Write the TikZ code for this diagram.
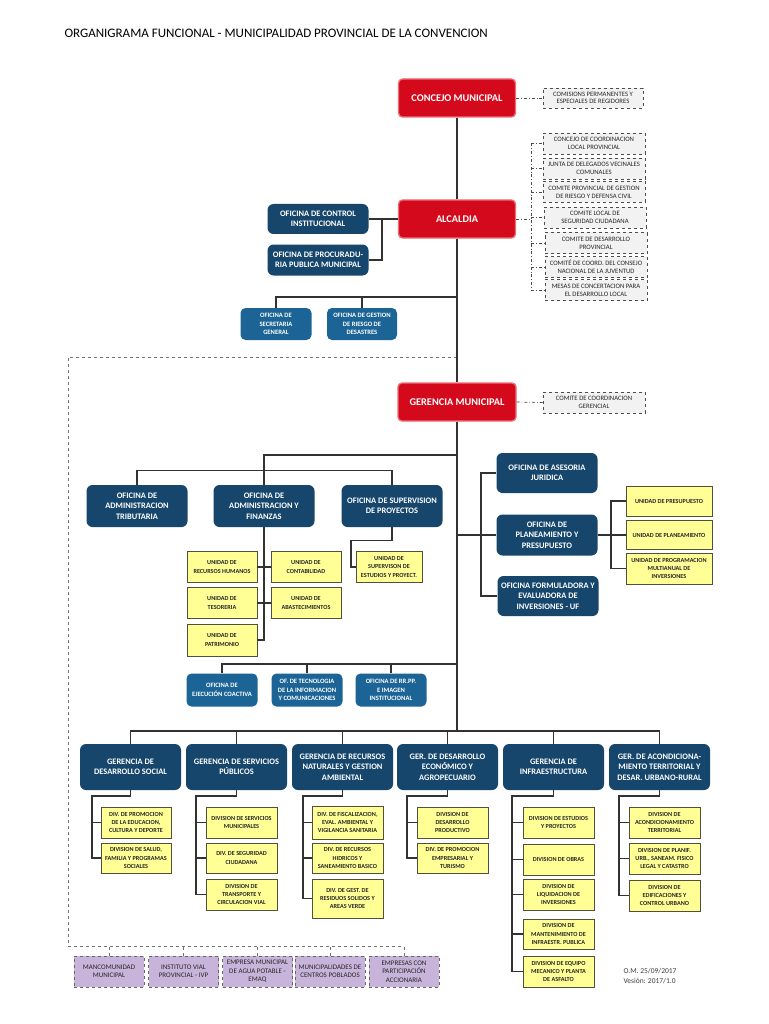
\documentclass[tikz,border=0pt]{standalone}
\usepackage{fontspec}
\setmainfont{Carlito}
\definecolor{cred}{RGB}{212,10,28}
\definecolor{credb}{RGB}{238,110,120}
\definecolor{cnavy}{RGB}{22,70,108}
\definecolor{clblue}{RGB}{28,100,150}
\definecolor{cyel}{RGB}{255,255,150}
\definecolor{cyelb}{RGB}{80,80,60}
\definecolor{cgray}{RGB}{242,242,242}
\definecolor{cpurp}{RGB}{200,180,218}
\definecolor{cline}{RGB}{50,50,50}
\begin{document}
\begin{tikzpicture}[x=1pt,y=-1pt,
 redbox/.style={rectangle,rounded corners=4pt,fill=cred,draw=credb,line width=1.3pt,text=white,font=\bfseries\fontsize{10.3}{12}\selectfont,minimum width=117pt,minimum height=38pt,inner sep=0pt,align=center},
 navybox/.style={rectangle,rounded corners=6pt,fill=cnavy,text=white,font=\bfseries\fontsize{8.4}{10.5}\selectfont,minimum width=101pt,minimum height=41pt,inner sep=0pt,align=center},
 lbbox/.style={rectangle,rounded corners=5pt,fill=clblue,text=white,font=\bfseries\fontsize{6.6}{8.4}\selectfont,minimum width=71pt,minimum height=32pt,inner sep=0pt,align=center},
 ybox/.style={rectangle,fill=cyel,draw=cyelb,line width=0.9pt,font=\bfseries\fontsize{6.2}{8.4}\selectfont,text=black!85,minimum width=71pt,minimum height=31pt,inner sep=0pt,align=center},
 dbox/.style={rectangle,fill=cgray,draw=black!70,dashed,line width=0.6pt,font=\fontsize{6.7}{7.7}\selectfont,text=black!85,minimum width=102pt,minimum height=21pt,inner sep=0pt,align=center},
 pbox/.style={rectangle,fill=cpurp,draw=black!60,dashed,line width=0.8pt,font=\fontsize{7}{8.4}\selectfont,text=black!85,minimum width=70pt,minimum height=31pt,inner sep=0pt,align=center},
 conn/.style={draw=cline,line width=1.2pt},
 dline/.style={draw=black!70,line width=0.7pt,dash dot},
 drect/.style={draw=black!55,line width=0.7pt,dashed}]
\useasboundingbox (0,0) rectangle (768,1024);
\fill[white] (0,0) rectangle (768,1024);

\node[anchor=west,font=\fontsize{13}{15}\selectfont] (title) at (61,33) {ORGANIGRAMA FUNCIONAL - MUNICIPALIDAD PROVINCIAL DE LA CONVENCION};

% top level
\node[redbox] (concejo) at (457,98) {CONCEJO MUNICIPAL};
\node[dbox,minimum width=100pt,minimum height=20pt] (comis) at (593,98) {COMISIONS PERMANENTES Y\\ESPECIALES DE REGIDORES};
\node[redbox] (alcaldia) at (457,219) {ALCALDIA};
\node[navybox,minimum height=30pt] (control) at (318,219) {OFICINA DE CONTROL\\INSTITUCIONAL};
\node[navybox,minimum height=31pt] (procur) at (318,260) {OFICINA DE PROCURADU-\\RIA PUBLICA MUNICIPAL};
\node[lbbox] (secret) at (276,324) {OFICINA DE\\SECRETARIA\\GENERAL};
\node[lbbox,minimum width=70pt] (gestr) at (362,324) {OFICINA DE GESTION\\DE RIESGO DE\\DESASTRES};

\node[dbox] (d1) at (594,143.5) {CONCEJO DE COORDINACION\\LOCAL PROVINCIAL};
\node[dbox] (d2) at (594,168.5) {JUNTA DE DELEGADOS VECINALES\\COMUNALES};
\node[dbox] (d3) at (594,192) {COMITE PROVINCIAL DE GESTION\\DE RIESGO Y DEFENSA CIVIL};
\node[dbox] (d4) at (595,217.5) {COMITE LOCAL DE\\SEGURIDAD CIUDADANA};
\node[dbox] (d5) at (596,243) {COMITE DE DESARROLLO\\PROVINCIAL};
\node[dbox] (d6) at (596,267) {COMITÉ DE COORD. DEL CONSEJO\\NACIONAL DE LA JUVENTUD};
\node[dbox] (d7) at (596,290) {MESAS DE CONCERTACION PARA\\EL DESARROLLO LOCAL};

\node[redbox,minimum width=118pt] (gerencia) at (457,402) {GERENCIA MUNICIPAL};
\node[dbox] (comger) at (594,402.5) {COMITE DE COORDINACION\\GERENCIAL};

% offices row
\node[navybox,minimum height=42pt] (adtrib) at (137,506) {OFICINA DE\\ADMINISTRACION\\TRIBUTARIA};
\node[navybox,minimum height=42pt] (finanzas) at (264,506) {OFICINA DE\\ADMINISTRACION Y\\FINANZAS};
\node[navybox,minimum height=42pt] (superv) at (392,506) {OFICINA DE SUPERVISION\\DE PROYECTOS};

\node[ybox,minimum width=70pt] (rrhh) at (222,567) {UNIDAD DE\\RECURSOS HUMANOS};
\node[ybox,minimum width=70pt] (contab) at (306,567) {UNIDAD DE\\CONTABILIDAD};
\node[ybox,minimum width=70pt] (tesor) at (222,603) {UNIDAD DE\\TESORERIA};
\node[ybox,minimum width=70pt] (abast) at (306,603) {UNIDAD DE\\ABASTECIMIENTOS};
\node[ybox,minimum width=70pt,minimum height=32pt] (patrim) at (222,640) {UNIDAD DE\\PATRIMONIO};
\node[ybox,minimum width=66pt] (supu) at (389,567) {UNIDAD DE\\SUPERVISON DE\\ESTUDIOS Y PROYECT.};

\node[navybox,minimum height=40pt] (asesor) at (547,473) {OFICINA DE ASESORIA\\JURIDICA};
\node[navybox,minimum height=41pt] (planea) at (547,535) {OFICINA DE\\PLANEAMIENTO Y\\PRESUPUESTO};
\node[navybox,minimum height=40pt] (formul) at (548,596) {OFICINA FORMULADORA Y\\EVALUADORA DE\\INVERSIONES - UF};

\node[ybox,minimum width=86pt,minimum height=30pt] (upres) at (669,501) {UNIDAD DE PRESUPUESTO};
\node[ybox,minimum width=86pt,minimum height=29pt] (uplan) at (669,535) {UNIDAD DE PLANEAMIENTO};
\node[ybox,minimum width=86pt,minimum height=31pt] (uprog) at (669,568.5) {UNIDAD DE PROGRAMACION\\MULTIANUAL DE\\INVERSIONES};

\node[lbbox,minimum height=33pt] (ejec) at (222,690) {OFICINA DE\\EJECUCIÓN COACTIVA};
\node[lbbox,minimum height=33pt] (tecno) at (307,690) {OF. DE TECNOLOGIA\\DE LA INFORMACION\\Y COMUNICACIONES};
\node[lbbox,minimum height=33pt] (rrpp) at (391,690) {OFICINA DE RR.PP.\\E IMAGEN\\INSTITUCIONAL};

% gerencias
\node[navybox,minimum height=46pt] (g1) at (130.5,767) {GERENCIA DE\\DESARROLLO SOCIAL};
\node[navybox,minimum height=46pt] (g2) at (236.5,767) {GERENCIA DE SERVICIOS\\PÚBLICOS};
\node[navybox,minimum height=46pt] (g3) at (342.5,767) {GERENCIA DE RECURSOS\\NATURALES Y GESTION\\AMBIENTAL};
\node[navybox,minimum height=46pt] (g4) at (447.5,767) {GER. DE DESARROLLO\\ECONÓMICO Y\\AGROPECUARIO};
\node[navybox,minimum height=46pt] (g5) at (553.5,767) {GERENCIA DE\\INFRAESTRUCTURA};
\node[navybox,minimum height=46pt] (g6) at (659.5,767) {GER. DE ACONDICIONA-\\MIENTO TERRITORIAL Y\\DESAR. URBANO-RURAL};

% divisions
\node[ybox,minimum width=70pt] (v11) at (136,822.5) {DIV. DE PROMOCION\\DE LA EDUCACION,\\CULTURA Y DEPORTE};
\node[ybox,minimum width=70pt,minimum height=30pt] (v12) at (136,858) {DIVISION DE SALUD,\\FAMILIA Y PROGRAMAS\\SOCIALES};
\node[ybox] (v21) at (241.5,822.5) {DIVISION DE SERVICIOS\\MUNICIPALES};
\node[ybox,minimum height=30pt] (v22) at (241.5,858) {DIV. DE SEGURIDAD\\CIUDADANA};
\node[ybox] (v23) at (241.5,894.5) {DIVISION DE\\TRANSPORTE Y\\CIRCULACION VIAL};
\node[ybox,minimum height=33pt] (v31) at (347.5,822.5) {DIV. DE FISCALIZACION,\\EVAL. AMBIENTAL Y\\VIGILANCIA SANITARIA};
\node[ybox,minimum height=30pt] (v32) at (347.5,858) {DIV. DE RECURSOS\\HIDRICOS Y\\SANEAMIENTO BASICO};
\node[ybox,minimum height=39pt] (v33) at (347.5,898.5) {DIV. DE GEST. DE\\RESIDUOS SOLIDOS Y\\AREAS VERDE};
\node[ybox] (v41) at (452.5,822.5) {DIVISION DE\\DESARROLLO\\PRODUCTIVO};
\node[ybox,minimum height=30pt] (v42) at (452.5,858) {DIV. DE PROMOCION\\EMPRESARIAL Y\\TURISMO};
\node[ybox] (v51) at (558.5,822.5) {DIVISION DE ESTUDIOS\\Y PROYECTOS};
\node[ybox] (v52) at (558.5,859.5) {DIVISION DE OBRAS};
\node[ybox] (v53) at (558.5,894.5) {DIVISION DE\\LIQUIDACION DE\\INVERSIONES};
\node[ybox,minimum height=30pt] (v54) at (558.5,934) {DIVISION DE\\MANTENIMIENTO DE\\INFRAESTR. PUBLICA};
\node[ybox] (v55) at (558.5,971.5) {DIVISION DE EQUIPO\\MECANICO Y PLANTA\\DE ASFALTO};
\node[ybox] (v61) at (664.5,822.5) {DIVISION DE\\ACONDICIONAMIENTO\\TERRITORIAL};
\node[ybox] (v62) at (664.5,858.5) {DIVISION DE PLANIF.\\URB., SANEAM. FISICO\\LEGAL Y CATASTRO};
\node[ybox] (v63) at (664.5,895.5) {DIVISION DE\\EDIFICACIONES Y\\CONTROL URBANO};

% purple
\node[pbox] (p1) at (109,971.5) {MANCOMUNIDAD\\MUNICIPAL};
\node[pbox] (p2) at (183.5,971.5) {INSTITUTO VIAL\\PROVINCIAL - IVP};
\node[pbox] (p3) at (257.5,971.5) {EMPRESA MUNICIPAL\\DE AGUA POTABLE -\\EMAQ};
\node[pbox] (p4) at (330,971.5) {MUNICIPALIDADES DE\\CENTROS POBLADOS};
\node[pbox] (p5) at (404,971.5) {EMPRESAS CON\\PARTICIPACIÓN\\ACCIONARIA};

\node[anchor=north west,align=left,font=\fontsize{7.5}{9.5}\selectfont,text=black!75] (version) at (620,965) {O.M. 25/09/2017\\Vesión: 2017/1.0};

% coordinates
\coordinate (abus) at (531,219);
\coordinate (ja) at (382,219);
\coordinate (js) at (457,297);
\coordinate (r1) at (457,357);
\coordinate (r2) at (68,357);
\coordinate (r3) at (68,946);
\coordinate (r4) at (404,946);
\coordinate (jt) at (457,455);
\coordinate (jr) at (457,535);
\coordinate (rb) at (481,535);
\coordinate (ub) at (611,535);
\coordinate (jm) at (457,664);
\coordinate (jbot) at (457,731);
\coordinate (c1) at (92,796);
\coordinate (c2) at (196,796);
\coordinate (c3) at (303,796);
\coordinate (c4) at (407,796);
\coordinate (c5) at (512,796);
\coordinate (c6) at (619,796);

% dashed frame
\draw[drect] (r1) -- (r2) -- (r3) -- (r4);
\foreach \p in {p1,p2,p3,p4,p5} {\draw[drect] (\p.north) -- (\p.north |- r3);}

% main spine
\draw[conn] (concejo) -- (alcaldia);
\draw[conn] (alcaldia) -- (gerencia);
\draw[conn] (gerencia.south) -- (jbot);

% dash-dot links
\draw[dline] (concejo.east) -- (comis.west);
\draw[dline] (alcaldia.east) -- (abus);
\draw[dline] (d1.west -| abus) -- (d7.west -| abus);
\foreach \d in {d1,d2,d3,d4,d5,d6,d7} {\draw[dline] (\d.west -| abus) -- (\d.west);}
\draw[dline] (gerencia.east) -- (comger.west);

% alcaldia offices
\draw[conn] (alcaldia.west) -- (control.east);
\draw[conn] (ja) |- (procur.east);
\draw[conn] (js) -| (secret.north);
\draw[conn] (gestr.north) -- (gestr.north |- js);

% gerencia offices
\draw[conn] (jt) -| (finanzas.north);
\draw[conn] (adtrib.north) -- ++(0,-14) -| (superv.north);
\draw[conn] (finanzas.south) |- (patrim.east);
\draw[conn] (rrhh.east) -- (contab.west);
\draw[conn] (tesor.east) -- (abast.west);
\draw[conn] (superv.south) -- ++(0,13) -- ++(-41,0) |- (supu.west);

\draw[conn] (jr) -- (rb);
\draw[conn] (asesor.west) -| (rb);
\draw[conn] (formul.west) -| (rb);
\draw[conn] (rb) -- (planea.west);
\draw[conn] (planea.east) -- (ub);
\draw[conn] (upres.west) -| (ub);
\draw[conn] (uprog.west) -| (ub);
\draw[conn] (ub) -- (uplan.west);

\draw[conn] (jm) -| (ejec.north);
\draw[conn] (tecno.north) -- (tecno.north |- jm);
\draw[conn] (rrpp.north) -- (rrpp.north |- jm);

% gerencias bus
\draw[conn] (g1.north) -- (g1.north |- jbot) -- (g6.north |- jbot) -- (g6.north);
\foreach \g in {g2,g3,g4,g5} {\draw[conn] (\g.north) -- (\g.north |- jbot);}

% divisions
\draw[conn] (g1.south) |- (c1) |- (v12.west);
\draw[conn] (v11.west) -| (c1);
\draw[conn] (g2.south) |- (c2) |- (v23.west);
\draw[conn] (v21.west) -| (c2);
\draw[conn] (v22.west) -| (c2);
\draw[conn] (g3.south) |- (c3) |- (v33.west);
\draw[conn] (v31.west) -| (c3);
\draw[conn] (v32.west) -| (c3);
\draw[conn] (g4.south) |- (c4) |- (v42.west);
\draw[conn] (v41.west) -| (c4);
\draw[conn] (g5.south) |- (c5) |- (v55.west);
\foreach \v in {v51,v52,v53,v54} {\draw[conn] (\v.west) -| (c5);}
\draw[conn] (g6.south) |- (c6) |- (v63.west);
\draw[conn] (v61.west) -| (c6);
\draw[conn] (v62.west) -| (c6);
\end{tikzpicture}
\end{document}
